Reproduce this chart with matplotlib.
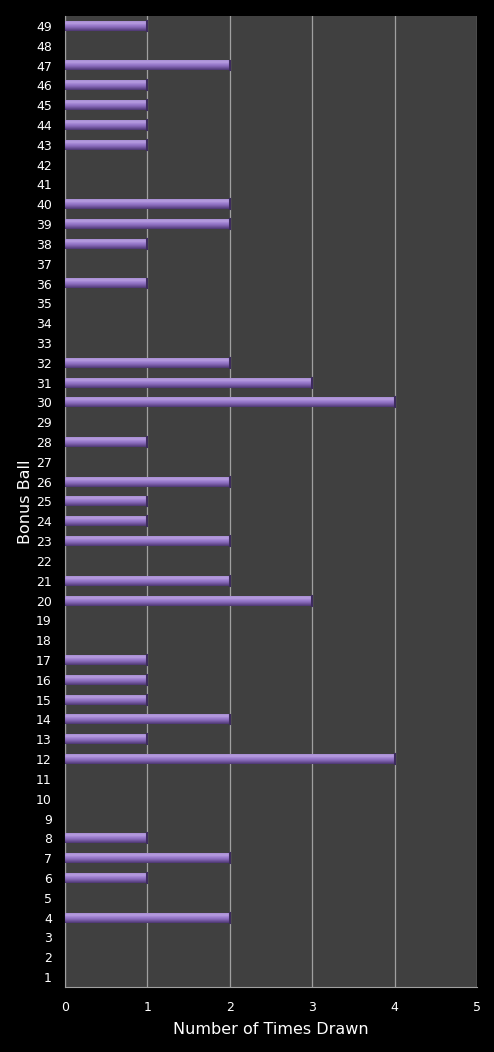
import matplotlib
matplotlib.use("Agg")
import matplotlib.pyplot as plt
import numpy as np
from matplotlib.colors import LinearSegmentedColormap

balls = list(range(1, 50))
counts = [0, 0, 0, 2, 0, 1, 2, 1, 0, 0,
          0, 4, 1, 2, 1, 1, 1, 0, 0, 3,
          2, 0, 2, 1, 1, 2, 0, 1, 0, 4,
          3, 2, 0, 0, 0, 1, 0, 1, 2, 2,
          0, 0, 1, 1, 1, 1, 2, 0, 1]
xticks = [0, 1, 2, 3, 4, 5]

fig = plt.figure(figsize=(4.94, 10.52), dpi=100, facecolor="black")
ax = fig.add_axes([65/494, 1-987/1052, (477-65)/494, (987-16)/1052])
ax.set_facecolor("#404040")

cmap = LinearSegmentedColormap.from_list(
    "bar", ["#4e3872", "#6c5198", "#8a6cbc", "#9e80d0", "#b89ee0", "#a88ed4"])
grad = np.linspace(0, 1, 32).reshape(-1, 1)
h = 0.5
for b, c in zip(balls, counts):
    if c > 0:
        ax.imshow(grad, cmap=cmap, aspect="auto", origin="lower",
                  extent=[0, c, b - h/2, b + h/2], zorder=3, interpolation="bilinear")
        ax.plot([c, c], [b - h/2, b + h/2], color="#3e2c5e", lw=1.5, zorder=4)

ax.set_xlim(0, 5)
ax.set_ylim(0.5, 49.5)
ax.set_xticks(xticks)
ax.set_yticks(balls)
ax.set_yticklabels([str(b) for b in balls])
ax.grid(axis="x", color="#a0a0a0", lw=0.9, zorder=1)
ax.set_axisbelow(True)
for s in ["top", "right"]:
    ax.spines[s].set_visible(False)
ax.spines["left"].set_color("#a0a0a0")
ax.spines["bottom"].set_color("#a0a0a0")
ax.tick_params(colors="white", length=0, labelsize=9)
ax.tick_params(axis="y", pad=9.5)
ax.tick_params(axis="x", pad=10)
ax.set_xlabel("Number of Times Drawn", color="white", fontsize=11.5, labelpad=6)
ax.set_ylabel("Bonus Ball", color="white", fontsize=11.5)
ax.yaxis.set_label_coords((33 - 65) / 412, 0.5)

fig.savefig("out.png", dpi=100, facecolor="black")
